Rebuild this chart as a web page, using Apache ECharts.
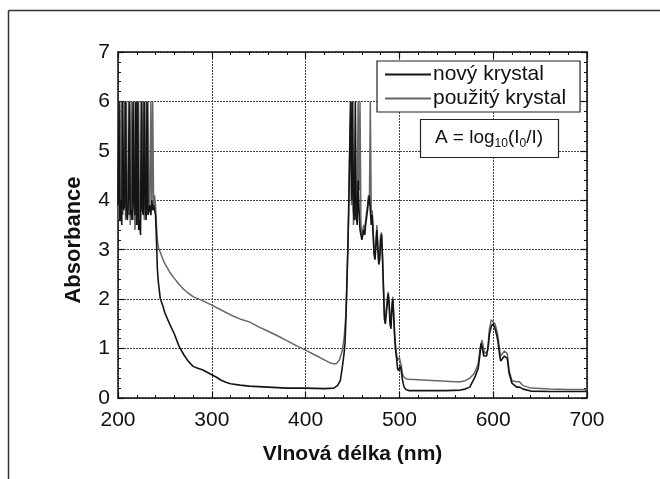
<!DOCTYPE html>
<html>
<head>
<meta charset="utf-8">
<script src="https://cdn.jsdelivr.net/npm/echarts@6/dist/echarts.min.js"></script>
<style>
html,body{margin:0;padding:0;background:#fff;}
#c{width:660px;height:479px;}
</style>
</head>
<body>
<div id="c"></div>
<script>
// Wavelength axis ticks
var xTicks = [200, 300, 400, 500, 600, 700];
var yTicks = [0, 1, 2, 3, 4, 5, 6, 7];
var seriesNames = ['nový krystal', 'použitý krystal'];
var xTitle = 'Vlnová délka (nm)';
var yTitle = 'Absorbance';

// nový krystal: [wavelength nm, absorbance]
var novyKrystal = [
 [200,3.9],[201,6],[202,3.6],[203,4.0],[204,3.5],[205,6],[206,3.8],[207,3.9],[208,6],[209,3.7],
 [210,3.6],[211,4.0],[212,6],[213,3.7],[214,3.8],[215,3.6],[216,6],[217,3.9],[218,3.7],[219,6],
 [220,3.5],[221,6],[222,3.4],[223,3.6],[224,3.3],[225,6],[226,3.8],[227,3.7],[228,6],[229,3.9],
 [230,3.6],[231,6],[232,3.7],[233,3.8],[234,3.9],[235,3.7],[236,4.0],[237,3.8],[238,3.9],[239,3.8],
 [240,3.7],[241,3.2],[242,2.6],[243,2.35],[245,2.02],[248,1.85],[250,1.72],[255,1.5],[260,1.3],
 [265,1.05],[270,0.88],[275,0.74],[280,0.64],[285,0.6],[290,0.57],[295,0.52],[300,0.47],[305,0.42],
 [310,0.36],[315,0.32],[320,0.29],[330,0.26],[340,0.24],[350,0.23],[360,0.22],[380,0.2],[400,0.2],
 [420,0.19],[430,0.2],[434,0.25],[437,0.35],[439,0.6],[441,0.9],[442,1.1],[443,1.6],[444,2.3],
 [445,3.0],[446,3.9],[447,5.0],[448,6],[449,4.0],[450,6],[451,3.8],[452,3.6],[453,6],[454,3.7],
 [455,3.5],[456,4.4],[457,3.8],[458,3.4],[459,3.3],[460,3.2],[461,3.2],[462,3.4],[463,3.3],[464,3.5],
 [465,3.5],[466,3.8],[467,4.0],[468,4.1],[469,3.8],[470,3.5],[471,3.7],[472,3.3],[473,2.9],[474,2.8],
 [475,3.1],[476,3.4],[477,3.0],[478,2.7],[479,2.8],[480,3.2],[481,3.3],[482,2.8],[483,2.2],[484,1.6],
 [485,1.5],[486,1.7],[487,1.9],[488,2.1],[489,1.9],[490,1.5],[491,1.4],[492,1.8],[493,2.0],[494,1.6],
 [495,1.2],[496,0.95],[497,0.8],[498,0.6],[499,0.55],[500,0.6],[501,0.65],[502,0.55],[503,0.4],
 [504,0.3],[505,0.22],[507,0.17],[510,0.15],[530,0.15],[550,0.15],[565,0.16],[570,0.18],[575,0.22],
 [580,0.4],[584,0.6],[586,0.9],[587,1.1],[588,1.05],[590,0.85],[593,0.85],[595,1.1],[596,1.3],
 [598,1.45],[600,1.5],[602,1.4],[604,1.25],[605,1.15],[607,0.85],[608,0.75],[610,0.75],[612,0.85],
 [615,0.8],[617,0.5],[620,0.3],[625,0.22],[628,0.22],[632,0.18],[640,0.14],[660,0.13],[680,0.13],
 [698,0.13],[700,0.15]
];

// použitý krystal: [wavelength nm, absorbance]
var pouzityKrystal = [
 [200,6],[201,3.6],[202,6],[203,3.8],[204,6],[205,3.7],[206,4.1],[207,6],[208,3.6],[209,6],
 [210,3.9],[211,3.7],[212,6],[213,3.5],[214,6],[215,3.8],[216,3.6],[217,6],[218,3.4],[219,3.7],
 [220,6],[221,3.5],[222,6],[223,3.4],[224,3.6],[225,6],[226,3.9],[227,6],[228,3.6],[229,3.8],
 [230,6],[231,3.7],[232,6],[233,3.8],[234,4.0],[235,6],[236,3.8],[237,6],[238,3.8],[239,4.1],
 [240,3.9],[241,3.5],[242,3.2],[243,3.05],[245,2.95],[248,2.8],[250,2.72],[252,2.68],[255,2.55],
 [260,2.42],[265,2.3],[270,2.2],[275,2.12],[280,2.05],[290,1.97],[300,1.88],[310,1.78],[320,1.68],
 [330,1.6],[340,1.54],[350,1.44],[360,1.35],[370,1.26],[380,1.16],[390,1.06],[400,0.97],[410,0.87],
 [420,0.77],[425,0.72],[430,0.69],[433,0.7],[436,0.77],[439,0.95],[441,1.2],[443,1.7],[444,2.3],
 [445,3.0],[446,3.8],[447,5.0],[448,6],[449,3.9],[450,6],[451,3.5],[452,3.8],[453,3.6],[454,3.9],
 [455,3.6],[456,6],[457,4.2],[458,6],[459,3.5],[460,3.3],[461,3.3],[462,3.5],[463,3.4],[464,3.6],
 [465,3.6],[466,3.9],[467,4.1],[468,3.9],[469,6],[470,3.7],[471,3.8],[472,3.4],[473,3.0],[474,2.9],
 [475,3.2],[476,3.5],[477,3.1],[478,2.8],[479,2.9],[480,3.3],[481,3.35],[482,2.9],[483,2.3],[484,1.7],
 [485,1.6],[486,1.8],[487,2.0],[488,2.15],[489,2.0],[490,1.6],[491,1.5],[492,1.9],[493,2.05],[494,1.7],
 [495,1.3],[496,1.05],[497,0.9],[498,0.75],[499,0.75],[500,0.82],[501,0.78],[502,0.65],[503,0.52],
 [504,0.44],[505,0.41],[507,0.39],[510,0.38],[520,0.37],[530,0.36],[540,0.35],[550,0.34],[560,0.33],
 [565,0.33],[570,0.35],[575,0.4],[580,0.5],[584,0.7],[586,1.0],[588,1.17],[591,0.9],[594,0.95],
 [596,1.4],[598,1.58],[600,1.6],[602,1.5],[604,1.35],[605,1.25],[607,0.95],[608,0.85],[610,0.9],
 [612,0.95],[615,0.9],[617,0.55],[620,0.35],[625,0.33],[628,0.33],[632,0.25],[640,0.2],[660,0.18],
 [680,0.17],[698,0.17],[700,0.19]
];

var chart = echarts.init(document.getElementById('c'), null, {renderer: 'canvas'});
var font = 'Arial, "Liberation Sans", Helvetica, sans-serif';
var axisCommon = {
  axisLine: {show: true, onZero: false, lineStyle: {color: '#111', width: 1.5}},
  axisTick: {show: true, inside: true, length: 6, lineStyle: {color: '#111', width: 1.2}},
  minorTick: {show: true, splitNumber: 5, length: 3, lineStyle: {color: '#111', width: 1}}
};
chart.setOption({
  backgroundColor: '#fff',
  animation: false,
  grid: {left: 118, right: 73, top: 52, bottom: 81, containLabel: false},
  legend: {
    data: [{name: seriesNames[0], icon: 'rect'}, {name: seriesNames[1], icon: 'rect'}],
    orient: 'vertical',
    left: 377, top: 61,
    padding: [3, 14, 3, 8],
    itemGap: 3,
    itemWidth: 46, itemHeight: 2,
    borderColor: '#222', borderWidth: 1.2,
    backgroundColor: '#fff',
    textStyle: {fontFamily: font, fontSize: 21, color: '#111', padding: [0, 0, 0, -3]}
  },
  xAxis: [
    Object.assign({
      type: 'value', position: 'bottom', min: xTicks[0], max: xTicks[xTicks.length - 1], interval: 100,
      name: xTitle, nameLocation: 'middle', nameGap: 46,
      nameTextStyle: {fontFamily: font, fontSize: 21, fontWeight: 'bold', color: '#111'},
      axisLabel: {fontFamily: font, fontSize: 21, color: '#111', margin: 12},
      splitLine: {show: true, lineStyle: {color: '#444', width: 1, type: [2, 1]}}
    }, axisCommon),
    Object.assign({
      type: 'value', position: 'top', min: xTicks[0], max: xTicks[xTicks.length - 1], interval: 100,
      axisLabel: {show: false}, splitLine: {show: false}
    }, axisCommon)
  ],
  yAxis: [
    Object.assign({
      type: 'value', position: 'left', min: yTicks[0], max: yTicks[yTicks.length - 1], interval: 1,
      axisLabel: {fontFamily: font, fontSize: 21, color: '#111', margin: 8},
      splitLine: {show: true, lineStyle: {color: '#444', width: 1, type: [2, 1]}}
    }, axisCommon),
    Object.assign({
      type: 'value', position: 'right', min: yTicks[0], max: yTicks[yTicks.length - 1], interval: 1,
      axisLabel: {show: false}, splitLine: {show: false}
    }, axisCommon)
  ],
  series: [
    {
      name: seriesNames[1], type: 'line', data: pouzityKrystal, symbol: 'none', xAxisIndex: 0, yAxisIndex: 0,
      lineStyle: {color: '#676767', width: 1.5}, itemStyle: {color: '#676767'}, z: 2
    },
    {
      name: seriesNames[0], type: 'line', data: novyKrystal, symbol: 'none', xAxisIndex: 0, yAxisIndex: 0,
      lineStyle: {color: '#141414', width: 1.6}, itemStyle: {color: '#141414'}, z: 3
    }
  ],
  graphic: [
    {type: 'line', shape: {x1: 8.5, y1: 10.5, x2: 660, y2: 10.5}, style: {stroke: '#333', lineWidth: 1.5}, silent: true},
    {type: 'line', shape: {x1: 8.5, y1: 10.5, x2: 8.5, y2: 479}, style: {stroke: '#333', lineWidth: 1.5}, silent: true},
    {type: 'text', x: 74, y: 240, rotation: Math.PI / 2, silent: true,
     style: {text: yTitle, align: 'center', verticalAlign: 'middle',
             font: 'bold 22px ' + font, fill: '#111'}},
    {type: 'rect', shape: {x: 420.5, y: 119.5, width: 138, height: 38}, style: {fill: '#fff', stroke: '#222', lineWidth: 1.2}, z: 10},
    {type: 'text', x: 489, y: 138, z: 11,
     style: {
       text: '{m|A = log}{s|10}{m|(I}{s|0}{m|/I)}',
       align: 'center', verticalAlign: 'middle',
       rich: {
         m: {fontFamily: font, fontSize: 19, fill: '#111'},
         s: {fontFamily: font, fontSize: 12, fill: '#111', padding: [12, 0, 0, 0]}
       }
     }}
  ]
});
</script>
</body>
</html>
